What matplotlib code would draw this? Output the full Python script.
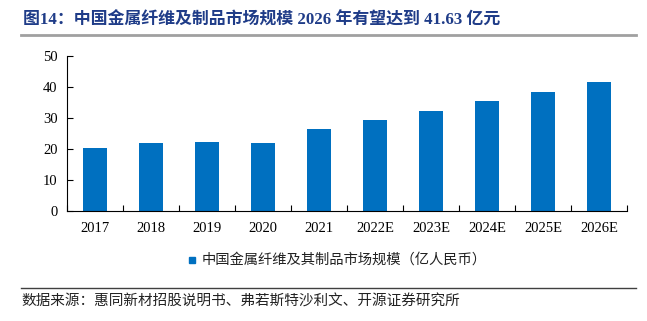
import numpy as np
import matplotlib
matplotlib.use("Agg")
import matplotlib.pyplot as plt
from matplotlib.lines import Line2D

years = ["2017", "2018", "2019", "2020", "2021",
         "2022E", "2023E", "2024E", "2025E", "2026E"]
market_size = [20.3, 21.9, 22.4, 21.9, 26.5, 29.4, 32.4, 35.4, 38.5, 41.63]
y_ticks = [0, 10, 20, 30, 40, 50]

title_text = "图14：中国金属纤维及制品市场规模 2026 年有望达到 41.63 亿元"
legend_text = "中国金属纤维及其制品市场规模（亿人民币）"
source_text = "数据来源：惠同新材招股说明书、弗若斯特沙利文、开源证券研究所"

bar_color = "#0070C0"
title_color = "#1F3C88"
serif = ["Liberation Serif", "Noto Sans CJK SC"]
cjk = ["Noto Sans CJK SC", "DejaVu Sans"]

W, H = 647, 321
fig = plt.figure(figsize=(W / 100, H / 100), dpi=100)

ax = fig.add_axes([67.3 / W, 1 - 211.3 / H, (627.3 - 67.3) / W, (211.3 - 56) / H])
x = np.arange(len(years))
ax.bar(x, market_size, width=0.43, color=bar_color)

ax.set_xlim(-0.5, len(years) - 0.5)
ax.set_ylim(0, 50)
ax.set_yticks(y_ticks)
ax.set_yticklabels([str(t) for t in y_ticks], family=serif, fontsize=10.5)
ax.set_xticks(x)
ax.set_xticklabels(years, family=serif, fontsize=10.5)
ax.set_xticks(np.arange(-0.5, len(years)), minor=True)
ax.tick_params(axis="x", which="major", length=0, pad=8)
ax.tick_params(axis="x", which="minor", direction="in", length=4, width=0.8)
ax.tick_params(axis="y", direction="in", length=4, width=0.8, pad=7)
for side in ["top", "right"]:
    ax.spines[side].set_visible(False)
for side in ["left", "bottom"]:
    ax.spines[side].set_linewidth(0.8)

# title and rule
fig.text(23 / W, 1 - 21 / H, title_text, family=serif, fontsize=12.2,
         fontweight="bold", color=title_color, va="center", ha="left")
fig.add_artist(Line2D([21 / W, 636 / W], [1 - 34.5 / H, 1 - 34.5 / H],
                      color="#A0A0A0", linewidth=2))

# legend
fig.add_artist(plt.Rectangle((189 / W, 1 - 263 / H), 6 / W, 6 / H,
                             color=bar_color, transform=fig.transFigure))
fig.text(202 / W, 1 - 260 / H, legend_text, family=cjk, fontsize=10.3,
         va="center", ha="left", color="#222222")

# source
fig.add_artist(Line2D([21 / W, 636 / W], [1 - 287.7 / H, 1 - 287.7 / H],
                      color="#404040", linewidth=1))
fig.text(21 / W, 1 - 301.7 / H, source_text, family=cjk, fontsize=10.5,
         va="center", ha="left", color="#222222")

fig.savefig("out.png", dpi=100)
